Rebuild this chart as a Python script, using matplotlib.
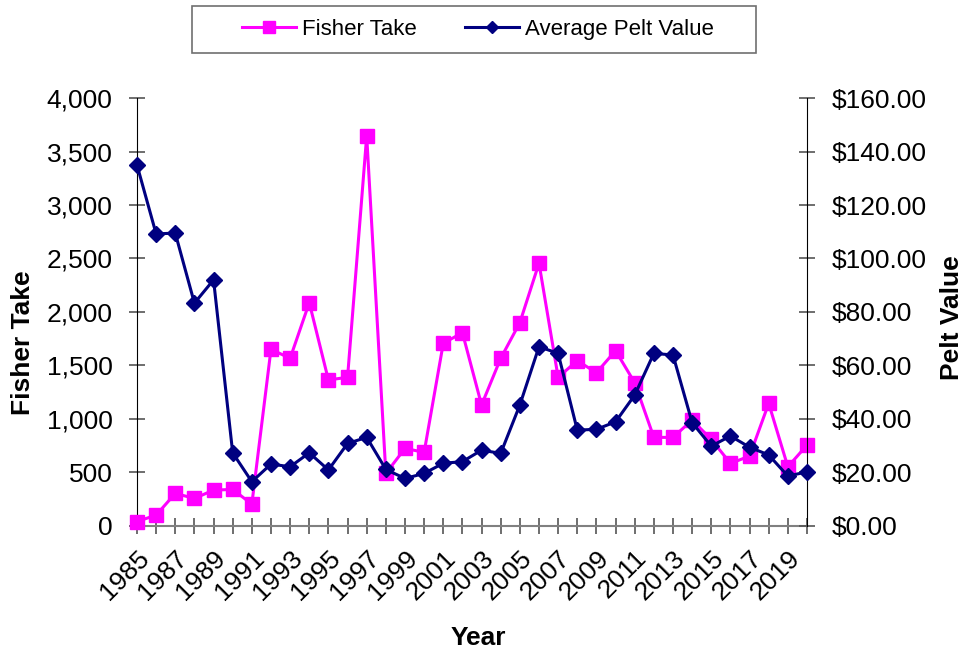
import matplotlib.pyplot as plt
from matplotlib.patches import Rectangle
from matplotlib.ticker import FuncFormatter, MultipleLocator

plt.rcParams['font.family'] = ['Liberation Sans', 'DejaVu Sans']

years = list(range(1985, 2021))

# fisher take (left axis)
fisher_take = [40, 100, 303, 256, 334, 340, 203, 1651, 1566, 2087, 1364, 1389,
               3647, 490, 724, 687, 1707, 1806, 1130, 1566, 1900, 2456, 1389, 1544,
               1432, 1638, 1338, 827, 827, 989, 808, 584, 652, 1145, 552, 755]

# average pelt value in dollars (right axis)
pelt_value = [135.0, 109.2, 109.5, 83.3, 92.0, 27.3, 16.5, 23.1, 22.1, 27.3, 20.9, 30.8,
              33.1, 21.1, 17.7, 19.6, 23.4, 24.0, 28.3, 27.1, 45.2, 67.0, 64.5, 35.8,
              36.1, 38.9, 48.9, 64.5, 63.9, 38.6, 29.8, 33.6, 29.4, 26.5, 18.6, 20.2]

year_labels = [str(y) if (y - 1985) % 2 == 0 else '' for y in years]

fig = plt.figure(figsize=(9.66, 6.54), dpi=100)
ax = fig.add_axes([0.1418, 0.196, 0.6936, 0.654])
ax2 = ax.twinx()

l1, = ax.plot(years, fisher_take, color='#FF00FF', lw=2.2, marker='s', ms=10.5,
              label='Fisher Take', zorder=3, clip_on=False)
l2, = ax2.plot(years, pelt_value, color='#000080', lw=2.2, marker='D', ms=8,
               label='Average Pelt Value', zorder=4, clip_on=False)

ax.set_xlim(1985, 2020)
ax.set_ylim(0, 4000)
ax2.set_ylim(0, 160)

ax.yaxis.set_major_locator(MultipleLocator(500))
ax.yaxis.set_major_formatter(FuncFormatter(lambda v, p: f'{v:,.0f}'))
ax2.yaxis.set_major_locator(MultipleLocator(20))
ax2.yaxis.set_major_formatter(FuncFormatter(lambda v, p: f'${v:,.2f}'))

ax.set_xticks(years)
ax.set_xticklabels(year_labels, rotation=45, ha='right', rotation_mode='anchor')

for a in (ax, ax2):
    a.spines['top'].set_visible(False)
    a.tick_params(direction='inout', length=11, width=1.2, labelsize=19, color='#555555')
    a.tick_params(axis='y', pad=12)

ax.spines['bottom'].set_color('#808080')
ax.spines['bottom'].set_linewidth(1.5)
ax2.spines['bottom'].set_visible(False)
ax.spines['right'].set_visible(False)
ax2.spines['left'].set_visible(False)
ax.tick_params(axis='x', pad=9)

ax.set_ylabel('Fisher Take', fontsize=19, fontweight='bold')
ax2.set_ylabel('Pelt Value', fontsize=19, fontweight='bold')
ax.set_xlabel('Year', fontsize=19, fontweight='bold')
ax.yaxis.set_label_coords(-0.152, 0.427)
ax2.yaxis.set_label_coords(1.1985, 0.486)
ax.xaxis.set_label_coords(0.51, -0.235)

# legend without its own frame, boxed by a plain rectangle
fig.legend(handles=[l1, l2], loc='center', bbox_to_anchor=(478 / 966, 1 - 29.5 / 654),
           ncol=2, fontsize=16, frameon=False, handlelength=2.4, handletextpad=0.27,
           columnspacing=2.2, markerscale=0.8)
fig.patches.append(Rectangle((191.7 / 966, 1 - 53.3 / 654), 564.3 / 966, 47.6 / 654,
                             transform=fig.transFigure, fill=False,
                             edgecolor='#707070', lw=1.2))

fig.savefig('out.png', dpi=100)
